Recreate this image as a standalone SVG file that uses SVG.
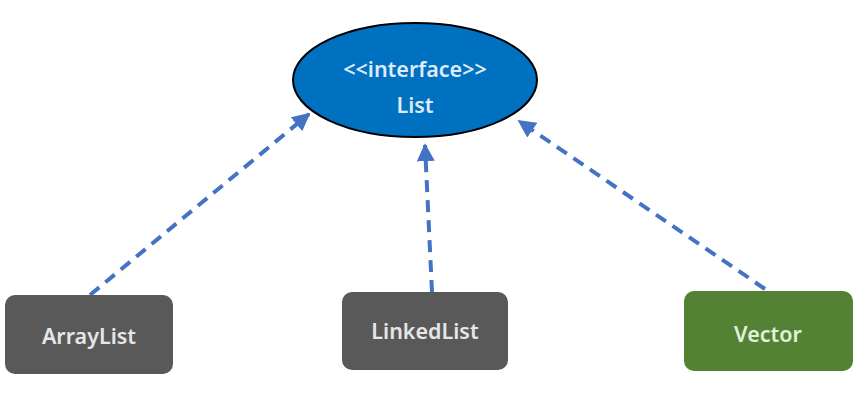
<svg xmlns="http://www.w3.org/2000/svg" width="856" height="415" viewBox="0 0 856 415">
<style>
.box{stroke:none}
.gray{fill:#595959}
.green{fill:#548235}
.lbl{font-family:"Noto Sans","Liberation Sans",sans-serif;font-weight:600;font-size:21.5px;text-anchor:middle;dominant-baseline:central}
.conn{stroke:#4472c4;stroke-width:4;stroke-dasharray:12 8;fill:none}
</style>
<defs>
<marker id="arr" viewBox="0 0 10 10" refX="9" refY="5" markerWidth="4.5" markerHeight="4.5" orient="auto" markerUnits="strokeWidth">
<path d="M0,0 L10,5 L0,10 z" fill="#4472c4"/>
</marker>
</defs>
<rect width="856" height="415" fill="#ffffff"/>
<g id="connectors">
<line class="conn" x1="90" y1="295" x2="309" y2="114" marker-end="url(#arr)"/>
<line class="conn" x1="432" y1="292" x2="425" y2="145" marker-end="url(#arr)"/>
<line class="conn" x1="765" y1="289" x2="519" y2="121" marker-end="url(#arr)"/>
</g>
<g id="list">
<ellipse cx="415" cy="80" rx="122" ry="57" fill="#0070c0" stroke="#000000" stroke-width="2"/>
<text class="lbl" x="415" y="68" fill="#deebf7" font-size="22">&lt;&lt;interface&gt;&gt;</text>
<text class="lbl" x="415" y="104" fill="#deebf7">List</text>
</g>
<g id="arraylist">
<rect class="box gray" x="5" y="295" width="168" height="79" rx="10"/>
<text class="lbl" x="89" y="335" fill="#e6e6e6">ArrayList</text>
</g>
<g id="linkedlist">
<rect class="box gray" x="342" y="292" width="166" height="78" rx="10"/>
<text class="lbl" x="425" y="330" fill="#e6e6e6">LinkedList</text>
</g>
<g id="vector">
<rect class="box green" x="684" y="291" width="169" height="80" rx="10"/>
<text class="lbl" x="768" y="333" fill="#e2f0d9">Vector</text>
</g>
</svg>
